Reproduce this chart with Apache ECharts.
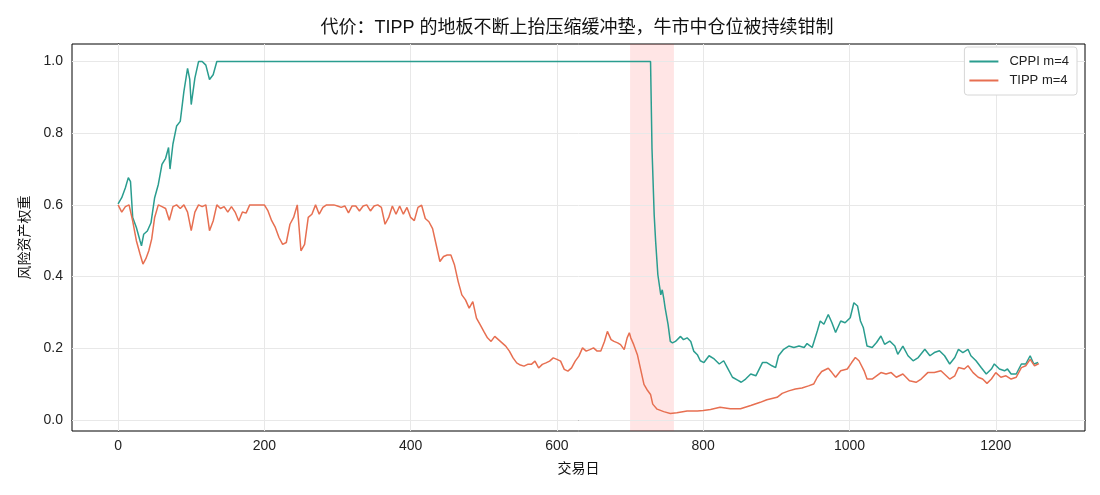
<!DOCTYPE html>
<html>
<head>
<meta charset="utf-8">
<script src="https://cdn.jsdelivr.net/npm/echarts@6/dist/echarts.min.js"></script>
<style>
  html, body { margin: 0; padding: 0; background: #fff; }
  #weight_chart { width: 1100px; height: 495px; }
</style>
</head>
<body>
<div id="weight_chart"></div>
<script>
// values (trading day -> risky-asset weight)
const cppiDays = [0,5,10,14,17,20,25,30,32,35,40,45,50,55,60,65,69,71,75,80,85,90,95,98,100,105,110,115,120,125,130,135,728,730,733,735,738,742,744,746,748,752,755,758,762,769,773,778,783,787,792,796,801,808,815,822,828,833,840,847,852,858,865,872,881,887,894,899,903,910,917,924,931,938,942,949,956,960,965,971,976,981,988,994,1001,1006,1011,1015,1019,1024,1031,1037,1043,1048,1055,1062,1066,1073,1080,1087,1094,1103,1110,1116,1123,1130,1137,1144,1149,1155,1162,1166,1173,1180,1187,1194,1198,1205,1212,1216,1221,1228,1235,1241,1247,1252,1258];
const cppiWeight = [0.603,0.620,0.648,0.676,0.665,0.565,0.537,0.500,0.486,0.518,0.527,0.550,0.620,0.657,0.713,0.730,0.760,0.700,0.770,0.820,0.833,0.917,0.981,0.950,0.880,0.954,1.0,1.0,0.990,0.950,0.963,1.0,1.0,0.756,0.571,0.497,0.405,0.349,0.363,0.340,0.312,0.266,0.219,0.215,0.219,0.233,0.224,0.229,0.219,0.192,0.182,0.165,0.160,0.179,0.170,0.156,0.165,0.146,0.119,0.111,0.105,0.114,0.128,0.123,0.160,0.160,0.151,0.146,0.179,0.197,0.206,0.202,0.206,0.202,0.213,0.202,0.248,0.276,0.267,0.294,0.271,0.244,0.276,0.271,0.285,0.327,0.318,0.276,0.257,0.206,0.202,0.216,0.234,0.211,0.220,0.206,0.183,0.206,0.179,0.165,0.174,0.197,0.179,0.188,0.193,0.179,0.156,0.174,0.197,0.188,0.197,0.179,0.165,0.146,0.128,0.142,0.156,0.142,0.137,0.142,0.128,0.128,0.156,0.156,0.179,0.156,0.160];

const tippDays = [0,5,10,15,20,25,30,34,38,42,46,50,55,60,65,70,75,80,85,90,95,100,105,110,115,120,125,130,135,140,145,150,155,160,165,170,175,180,190,200,205,210,215,220,225,230,235,240,245,250,255,260,265,270,275,280,285,295,300,305,310,315,320,325,330,335,340,345,350,355,360,365,370,375,380,385,390,395,400,405,410,415,420,425,430,435,440,445,450,455,460,465,470,475,480,485,490,495,500,505,510,515,520,525,530,535,540,545,550,555,560,565,570,575,580,585,590,595,600,605,610,615,620,625,630,635,640,645,650,655,660,665,669,674,678,683,687,692,696,699,701,705,710,714,719,723,728,731,737,746,755,764,778,792,800,810,823,837,851,865,878,887,901,908,917,926,935,944,951,956,962,971,976,981,988,997,1003,1008,1013,1020,1024,1031,1037,1043,1050,1057,1064,1073,1082,1091,1098,1107,1116,1125,1137,1144,1149,1157,1162,1169,1176,1182,1188,1194,1200,1207,1214,1221,1228,1235,1241,1247,1253,1259];
const tippWeight = [0.600,0.580,0.595,0.600,0.555,0.500,0.463,0.435,0.450,0.472,0.505,0.565,0.600,0.595,0.590,0.557,0.595,0.600,0.590,0.600,0.580,0.528,0.580,0.600,0.595,0.600,0.528,0.555,0.600,0.590,0.595,0.580,0.595,0.580,0.555,0.580,0.577,0.600,0.600,0.600,0.583,0.556,0.537,0.509,0.490,0.495,0.546,0.565,0.600,0.472,0.490,0.565,0.574,0.600,0.574,0.593,0.600,0.600,0.597,0.593,0.597,0.578,0.597,0.597,0.583,0.597,0.600,0.583,0.597,0.600,0.593,0.546,0.565,0.597,0.574,0.597,0.574,0.593,0.565,0.556,0.593,0.599,0.562,0.553,0.534,0.488,0.442,0.456,0.460,0.460,0.432,0.386,0.349,0.335,0.312,0.330,0.284,0.266,0.247,0.229,0.219,0.233,0.224,0.215,0.206,0.192,0.173,0.159,0.153,0.150,0.155,0.155,0.164,0.145,0.155,0.159,0.164,0.173,0.169,0.164,0.141,0.136,0.145,0.164,0.178,0.201,0.192,0.196,0.201,0.192,0.192,0.219,0.247,0.224,0.219,0.215,0.210,0.196,0.229,0.243,0.229,0.210,0.182,0.145,0.099,0.085,0.071,0.044,0.030,0.023,0.018,0.020,0.025,0.025,0.026,0.029,0.035,0.031,0.031,0.040,0.049,0.056,0.063,0.074,0.081,0.086,0.089,0.095,0.100,0.119,0.135,0.144,0.132,0.119,0.137,0.142,0.160,0.174,0.165,0.137,0.114,0.114,0.123,0.132,0.128,0.132,0.119,0.128,0.109,0.105,0.114,0.132,0.132,0.137,0.114,0.123,0.146,0.142,0.151,0.132,0.119,0.114,0.102,0.114,0.132,0.119,0.123,0.114,0.119,0.146,0.151,0.169,0.151,0.157];

const xTicks = [0, 200, 400, 600, 800, 1000, 1200];
const yTicks = [0, 0.2, 0.4, 0.6, 0.8, 1.0];
const shadeRange = [700, 760];

var chartDom = document.getElementById('weight_chart');
var weightChart = echarts.init(chartDom);
var weightOption;

const fontFamily = '"Liberation Sans", "Noto Sans CJK SC", sans-serif';
const zip = (xs, ys) => xs.map((x, i) => [x, ys[i]]);

weightOption = {
  animation: false,
  textStyle: { fontFamily: fontFamily },
  title: {
    text: '代价：TIPP 的地板不断上抬压缩缓冲垫，牛市中仓位被持续钳制',
    left: 572,
    textAlign: 'center',
    top: 14,
    textStyle: { fontSize: 18, fontWeight: 'normal', color: '#111', fontFamily: fontFamily }
  },
  legend: {
    orient: 'vertical',
    right: 23,
    top: 47,
    padding: [8, 8, 8, 5],
    itemGap: 6,
    itemWidth: 29,
    itemHeight: 2,
    icon: 'rect',
    backgroundColor: '#fff',
    borderColor: '#d6d6d6',
    borderWidth: 1,
    borderRadius: 3,
    z: 10,
    textStyle: { fontSize: 13, color: '#222', fontFamily: fontFamily, padding: [0, 0, 0, 6] },
    data: ['CPPI m=4', 'TIPP m=4']
  },
  grid: {
    left: 72,
    right: 15,
    top: 44,
    bottom: 64,
    show: true,
    borderColor: '#000',
    borderWidth: 1
  },
  xAxis: {
    type: 'value',
    min: -63,
    max: 1322,
    name: '交易日',
    nameLocation: 'middle',
    nameGap: 31,
    nameTextStyle: { fontSize: 14, color: '#111' },
    axisLine: { show: true, lineStyle: { color: '#000' } },
    axisTick: { show: true, length: 5, customValues: xTicks, lineStyle: { color: '#000' } },
    axisLabel: { customValues: xTicks, fontSize: 14, color: '#222', margin: 8, formatter: v => String(v) },
    splitLine: { show: false }
  },
  yAxis: {
    type: 'value',
    min: -0.031,
    max: 1.049,
    name: '风险资产权重',
    nameLocation: 'middle',
    nameGap: 40,
    nameTextStyle: { fontSize: 14, color: '#111' },
    axisLine: { show: true, lineStyle: { color: '#000' } },
    axisTick: { show: true, length: 5, customValues: yTicks, lineStyle: { color: '#000' } },
    axisLabel: {
      customValues: yTicks,
      fontSize: 14,
      color: '#222',
      margin: 9,
      formatter: v => v.toFixed(1)
    },
    splitLine: { show: false }
  },
  series: [
    {
      // grid lines drawn at the tick positions, plus the shaded window
      type: 'line',
      data: [],
      silent: true,
      z: 1,
      markLine: {
        silent: true,
        z: 1,
        symbol: 'none',
        label: { show: false },
        lineStyle: { color: '#e8e8e8', width: 1, type: 'solid' },
        data: xTicks.map(v => ({ xAxis: v })).concat(yTicks.map(v => ({ yAxis: v })))
      },
      markArea: {
        silent: true,
        z: 1,
        itemStyle: { color: 'rgba(255, 0, 0, 0.1)' },
        data: [[{ xAxis: shadeRange[0] }, { xAxis: shadeRange[1] }]]
      }
    },
    {
      name: 'CPPI m=4',
      type: 'line',
      z: 3,
      showSymbol: false,
      color: '#2a9d8f',
      lineStyle: { width: 1.5 },
      emphasis: { disabled: true },
      data: zip(cppiDays, cppiWeight)
    },
    {
      name: 'TIPP m=4',
      type: 'line',
      z: 3,
      showSymbol: false,
      color: '#e76f51',
      lineStyle: { width: 1.5 },
      emphasis: { disabled: true },
      data: zip(tippDays, tippWeight)
    }
  ]
};

weightOption && weightChart.setOption(weightOption);
</script>
</body>
</html>
